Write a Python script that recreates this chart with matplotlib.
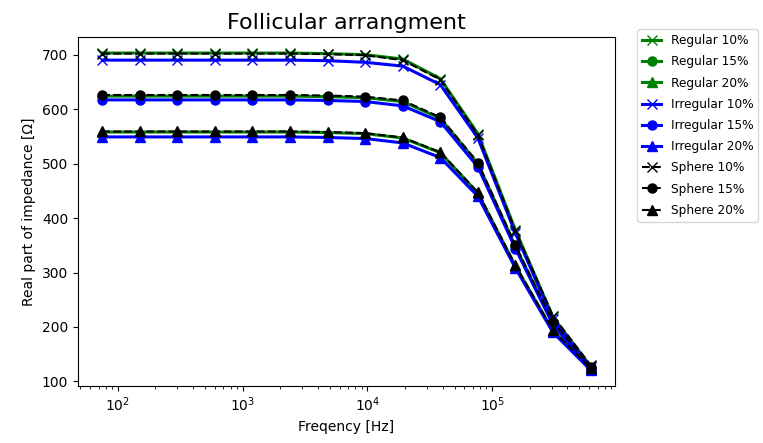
import matplotlib
matplotlib.use("Agg")
import matplotlib.pyplot as plt
import numpy as np

# frequencies [Hz], doubling each step
freq = [75, 150, 300, 600, 1200, 2400, 4800, 9600, 19200, 38400,
        76800, 153600, 307200, 614400]

regular_10 = [703, 703, 703, 703, 703, 703, 702, 700, 692, 656, 555, 378, 218, 128]
regular_15 = [624, 624, 624, 624, 624, 624, 623, 621, 614, 583, 500, 348, 207, 125]
regular_20 = [558, 558, 558, 558, 558, 558, 557, 555, 547, 520, 446, 312, 193, 123]

irregular_10 = [690, 690, 690, 690, 690, 690, 689, 686, 679, 645, 547, 372, 214, 126]
irregular_15 = [617, 617, 617, 617, 617, 617, 616, 614, 606, 577, 494, 344, 204, 123]
irregular_20 = [549, 549, 549, 549, 549, 549, 548, 546, 538, 511, 440, 308, 190, 121]

sphere_10 = [702, 702, 702, 702, 702, 702, 701, 699, 690, 654, 553, 376, 220, 130]
sphere_15 = [626, 626, 626, 626, 626, 626, 625, 623, 616, 585, 502, 350, 209, 127]
sphere_20 = [559, 559, 559, 559, 559, 559, 558, 556, 548, 521, 447, 313, 194, 124]

fig = plt.figure(figsize=(7.63, 4.43), dpi=100)
ax = fig.add_axes([0.102, 0.129, 0.704, 0.787])

lw = 2.2
ms = 6.5
ax.plot(freq, regular_10, 'g-x', lw=lw, ms=ms, label='Regular 10%')
ax.plot(freq, regular_15, 'g-o', lw=lw, ms=ms, label='Regular 15%')
ax.plot(freq, regular_20, 'g-^', lw=lw, ms=ms, label='Regular 20%')
ax.plot(freq, irregular_10, 'b-x', lw=lw, ms=ms, label='Irregular 10%')
ax.plot(freq, irregular_15, 'b-o', lw=lw, ms=ms, label='Irregular 15%')
ax.plot(freq, irregular_20, 'b-^', lw=lw, ms=ms, label='Irregular 20%')
ax.plot(freq, sphere_10, 'k--x', lw=1.5, ms=ms, label='Sphere 10%')
ax.plot(freq, sphere_15, 'k--o', lw=1.5, ms=ms, label='Sphere 15%')
ax.plot(freq, sphere_20, 'k--^', lw=1.5, ms=ms, label='Sphere 20%')

ax.set_xscale('log')
ax.set_title('Follicular arrangment', fontsize=16)
ax.set_xlabel('Freqency [Hz]', fontsize=10)
ax.set_ylabel('Real part of impedance [Ω]', fontsize=10)
ax.legend(loc='upper left', bbox_to_anchor=(1.03, 1.04), fontsize=8.7,
          handlelength=1.6, labelspacing=0.68)

fig.savefig('out.png', dpi=100)
